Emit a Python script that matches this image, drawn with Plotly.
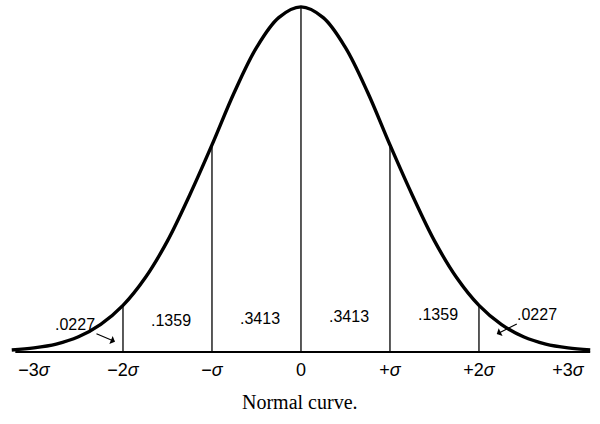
import plotly.graph_objects as go

# Curve heights at quarter-sigma steps (peak = 1)
curve_x = [-3.25, -3.0, -2.75, -2.5, -2.25, -2.0, -1.75, -1.5, -1.25, -1.0,
           -0.75, -0.5, -0.25, 0.0, 0.25, 0.5, 0.75, 1.0, 1.25, 1.5,
           1.75, 2.0, 2.25, 2.5, 2.75, 3.0, 3.25]
curve_y = [0.006, 0.012, 0.023, 0.044, 0.080, 0.135, 0.215, 0.322, 0.455, 0.600,
           0.752, 0.882, 0.969, 1.0, 0.969, 0.882, 0.752, 0.600, 0.455, 0.322,
           0.215, 0.135, 0.080, 0.044, 0.023, 0.012, 0.006]

# Ordinates drawn at the sigma points
ordinate_x = [-2, -1, 0, 1, 2]
ordinate_top = [0.135, 0.600, 1.0, 0.600, 0.135]

# Axis labels
tick_vals = [-3, -2, -1, 0, 1, 2, 3]
tick_text = ["\u22123<i>\u03c3</i>", "\u22122<i>\u03c3</i>", "\u2212<i>\u03c3</i>", "0",
             "+<i>\u03c3</i>", "+2<i>\u03c3</i>", "+3<i>\u03c3</i>"]

# Areas between the ordinates
inner_areas = [".1359", ".3413", ".3413", ".1359"]
tail_area = ".0227"

FONT = "Liberation Sans"

fig = go.Figure()

# baseline
fig.add_trace(go.Scatter(
    x=[curve_x[0] + 0.04, curve_x[-1]], y=[0, 0], mode="lines",
    line=dict(color="black", width=2), hoverinfo="skip",
))

# ordinates
vx, vy = [], []
for xv, top in zip(ordinate_x, ordinate_top):
    vx += [xv, xv, None]
    vy += [0, top, None]
fig.add_trace(go.Scatter(
    x=vx, y=vy, mode="lines", line=dict(color="black", width=1.3), hoverinfo="skip",
))

# the curve
fig.add_trace(go.Scatter(
    x=curve_x, y=curve_y, mode="lines",
    line=dict(color="black", width=3.4, shape="spline", smoothing=1.0),
    hoverinfo="skip",
))

# area labels between ordinates
for i, label in enumerate(inner_areas):
    mid = (ordinate_x[i] + ordinate_x[i + 1]) / 2
    fig.add_annotation(
        x=mid + 0.04, y=0.09 + 0.006 * i, text=label, showarrow=False,
        font=dict(family=FONT, size=16, color="black"),
    )

# tail labels with arrows
fig.add_annotation(
    x=-2.09, y=0.03, text=tail_area, showarrow=True, ax=-40, ay=-17,
    arrowhead=1, arrowsize=1.2, arrowwidth=1.2, arrowcolor="black",
    font=dict(family=FONT, size=16, color="black"),
)
fig.add_annotation(
    x=2.2, y=0.052, text=tail_area, showarrow=True, ax=40, ay=-20,
    arrowhead=1, arrowsize=1.2, arrowwidth=1.2, arrowcolor="black",
    font=dict(family=FONT, size=16, color="black"),
)

# caption
fig.add_annotation(
    x=0.5, y=-0.126, xref="paper", yref="paper", text="Normal curve.",
    showarrow=False, yanchor="middle",
    font=dict(family="Liberation Serif", size=20, color="black"),
)

fig.update_layout(
    width=600, height=424,
    margin=dict(l=0, r=0, t=0, b=67),
    paper_bgcolor="white", plot_bgcolor="white",
    showlegend=False,
)
fig.update_xaxes(
    range=[-3.382, 3.36], showgrid=False, zeroline=False, showline=False,
    tickvals=tick_vals, ticktext=tick_text, ticks="",
    tickfont=dict(family=FONT, size=18, color="black"),
)
fig.update_yaxes(
    range=[-0.0145, 1.02], showgrid=False, zeroline=False, showline=False,
    showticklabels=False,
)

# drop the page's default body margin so the figure sits at the window corner
fig.write_html(
    "out.html",
    config={"displayModeBar": False},
    post_script="document.body.style.margin='0';",
)
